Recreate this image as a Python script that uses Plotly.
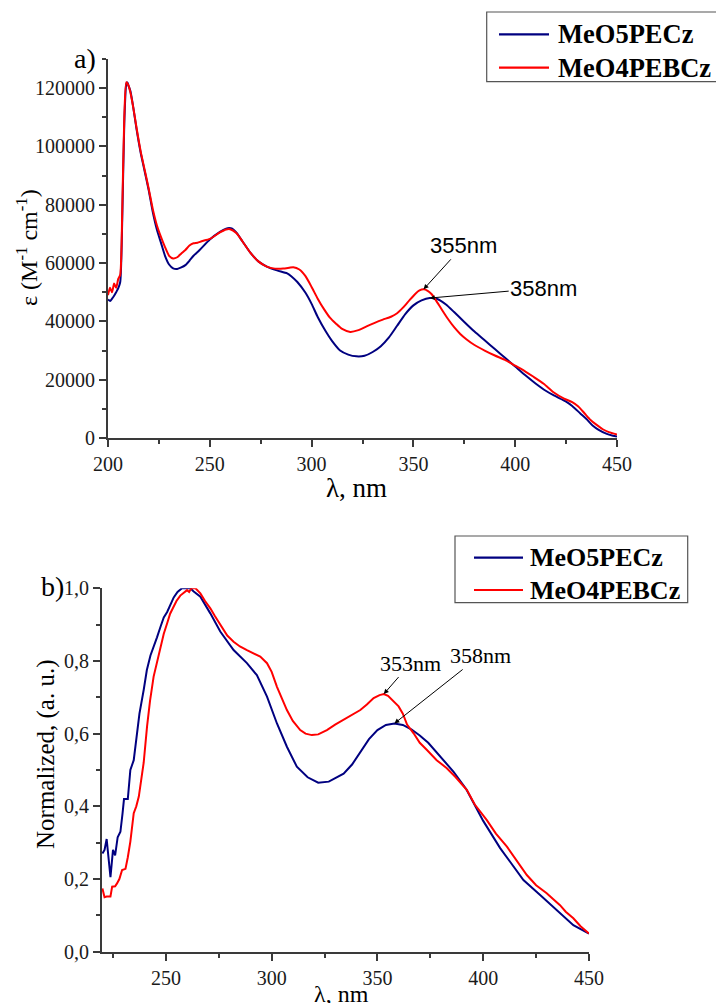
import plotly.graph_objects as go

# ---------------- panel a) molar absorptivity ----------------
wl_a_blue = [200, 201, 202, 203, 204, 205, 206, 207, 208, 209, 209.5, 210, 211, 212.5, 214, 216, 218,
             220, 222, 224, 226, 228, 230, 232, 234, 236, 238, 240, 242, 245, 250, 255, 258, 259.5,
             261, 263, 266, 270, 274, 278, 283, 288, 290, 293, 297, 300, 303, 307, 310, 314, 318,
             322, 326, 330, 334, 338, 342, 346, 350, 354, 358, 362, 366, 370, 375, 380, 385, 390,
             395, 400, 405, 410, 415, 419, 425, 428, 432, 435, 438, 441, 445, 448, 450]
eps_blue = [47500, 47000, 47800, 48800, 50000, 51300, 53500, 75000, 108000, 121500, 122000, 121000,
            119000, 113000, 106000, 98000, 91500, 85000, 77500, 71500, 67000, 62500, 59500, 58200,
            58000, 58500, 59300, 60800, 62500, 64500, 68100, 70700, 71800, 72000, 71800, 70500,
            67500, 63500, 60500, 58800, 57500, 56500, 55500, 53500, 49800, 46000, 41500, 36500,
            33300, 30000, 28600, 28000, 28200, 29500, 31500, 34500, 38500, 42500, 45500, 47200,
            48000, 47600, 45800, 43200, 39800, 36500, 33500, 30500, 27500, 24500, 21500, 18700,
            16200, 14600, 12500, 11000, 8400, 6500, 4300, 2800, 1400, 800, 500]

wl_a_red = [200, 201, 202, 203, 204, 205, 206, 207, 208, 209, 210, 211, 212.5, 214, 216, 218, 220,
            222, 224, 226, 228, 230, 232, 234, 236, 238, 240, 242, 244, 246, 250, 255, 258, 260,
            263, 266, 270, 274, 278, 282, 286, 289, 291, 294, 297, 300, 303, 306, 309, 312, 315,
            319, 323, 327, 331, 335, 339, 342, 345, 348, 351, 353, 355, 357, 359, 361, 364, 367,
            370, 373, 376, 380, 385, 390, 395, 400, 405, 409, 414, 419, 424, 428, 431, 434, 437,
            440, 443, 446, 450]
eps_red = [49000, 51500, 50000, 53000, 51500, 54500, 56000, 78000, 110000, 122000, 121000, 118500,
           113000, 106500, 98500, 92000, 85500, 78500, 73000, 69000, 65500, 62500, 61600, 62000,
           63300, 64500, 66000, 66800, 67000, 67500, 68300, 70500, 71500, 71600, 70300, 67500,
           63500, 60500, 58800, 58100, 58100, 58400, 58600, 57800, 55500, 51800, 47800, 44300,
           41300, 39200, 37400, 36400, 37000, 38300, 39500, 40600, 41600, 42800, 44800, 47200,
           49500, 50600, 51000, 50500, 49300, 47300, 44000, 40800, 38000, 35700, 33900, 31900,
           30000, 28300, 26800, 24800, 22800, 21000, 18600, 15600, 13500, 12300, 10800, 8500,
           6200, 4500, 3000, 2000, 1200]

# ---------------- panel b) normalized absorption ----------------
wl_b_blue = [220, 221, 222, 222.7, 223.8, 225, 226, 227.2, 228.5, 229.5, 230.2, 232, 233.2, 234.8,
             236.4, 237.5, 239.5, 241, 242.7, 244, 245.8, 247.5, 249, 250.6, 252, 253.7, 255.5,
             257.6, 261.6, 263, 266.3, 271, 275.7, 282, 288.3, 293, 297.8, 302.5, 307.2, 311.9,
             317, 322, 327, 334, 338, 342, 346, 350, 354, 358, 362, 366, 370, 374, 380, 386, 392,
             396, 400, 408, 419, 426.9, 434.7, 442.6, 450]
norm_blue = [0.27, 0.28, 0.31, 0.27, 0.205, 0.28, 0.265, 0.315, 0.33, 0.38, 0.42, 0.42, 0.50, 0.527,
             0.60, 0.655, 0.72, 0.775, 0.815, 0.835, 0.865, 0.895, 0.92, 0.935, 0.955, 0.975, 0.99,
             1.0, 1.0, 0.992, 0.977, 0.931, 0.881, 0.830, 0.794, 0.761, 0.702, 0.628, 0.564, 0.509,
             0.48, 0.465, 0.468, 0.49, 0.515, 0.55, 0.585, 0.61, 0.624, 0.628, 0.624, 0.612, 0.595,
             0.575, 0.535, 0.495, 0.447, 0.405, 0.36, 0.285, 0.197, 0.156, 0.115, 0.073, 0.05]

wl_b_red = [220, 221, 222, 223.8, 224.6, 226, 226.9, 228, 229.3, 230.9, 232, 233.2, 234.8, 236,
            237.2, 239.5, 241.1, 242.5, 244.2, 246, 247.4, 249, 250.6, 252, 253.7, 255, 256.8, 258,
            259, 260, 261, 262, 264, 266.3, 268.5, 271, 273, 275.7, 279, 282, 285, 288.3, 291,
            294.6, 297.8, 300, 302.5, 305, 307.2, 310, 313.5, 316, 319, 322, 326.1, 330, 334, 338,
            341.9, 345, 348.2, 351, 353, 355, 357, 360, 362, 364, 367.1, 370, 373.4, 378, 382.8,
            387, 392.3, 396, 401.7, 406, 411.2, 416, 420.6, 425, 430, 433, 436.3, 439, 442.6, 446,
            450]
norm_red = [0.174, 0.15, 0.152, 0.152, 0.179, 0.18, 0.188, 0.20, 0.225, 0.228, 0.26, 0.303, 0.381,
            0.40, 0.427, 0.52, 0.62, 0.69, 0.757, 0.80, 0.839, 0.875, 0.904, 0.93, 0.95, 0.965,
            0.98, 0.985, 0.99, 0.995, 0.99, 1.0, 1.0, 0.986, 0.965, 0.945, 0.925, 0.899, 0.87,
            0.853, 0.84, 0.830, 0.822, 0.812, 0.794, 0.77, 0.729, 0.695, 0.665, 0.635, 0.610, 0.600,
            0.596, 0.598, 0.61, 0.625, 0.638, 0.652, 0.665, 0.68, 0.698, 0.706, 0.709, 0.704, 0.692,
            0.675, 0.655, 0.625, 0.601, 0.575, 0.555, 0.527, 0.505, 0.48, 0.445, 0.405, 0.362, 0.325,
            0.289, 0.25, 0.211, 0.183, 0.161, 0.145, 0.128, 0.11, 0.092, 0.07, 0.05]

series_names = ["MeO5PECz", "MeO4PEBCz"]
series_colors = ["#000080", "#ff0000"]

a_xticks = [200, 250, 300, 350, 400, 450]
a_yticks = [0, 20000, 40000, 60000, 80000, 100000, 120000]
a_ytick_labels = ["0", "20000", "40000", "60000", "80000", "100000", "120000"]
b_xticks = [250, 300, 350, 400, 450]
b_yticks = [0.0, 0.2, 0.4, 0.6, 0.8, 1.0]
b_ytick_labels = ["0,0", "0,2", "0,4", "0,6", "0,8", "1,0"]

W, H = 716, 1003
SERIF = "Liberation Serif"
SANS = "Liberation Sans"
AXIS_COLOR = "#3a3a3a"
TEXT_COLOR = "#1a1a1a"


def px_x(p):
    return p / W


def px_y(p):
    return 1 - p / H


fig = go.Figure()

fig.add_trace(go.Scatter(x=wl_a_blue, y=eps_blue, name=series_names[0], mode="lines",
                         line=dict(color=series_colors[0], width=2, shape="spline", smoothing=0.6),
                         xaxis="x", yaxis="y"))
fig.add_trace(go.Scatter(x=wl_a_red, y=eps_red, name=series_names[1], mode="lines",
                         line=dict(color=series_colors[1], width=2, shape="spline", smoothing=0.6),
                         xaxis="x", yaxis="y"))
fig.add_trace(go.Scatter(x=wl_b_blue, y=norm_blue, name=series_names[0], mode="lines",
                         line=dict(color=series_colors[0], width=2),
                         xaxis="x2", yaxis="y2"))
fig.add_trace(go.Scatter(x=wl_b_red, y=norm_red, name=series_names[1], mode="lines",
                         line=dict(color=series_colors[1], width=2),
                         xaxis="x2", yaxis="y2"))

axis_common = dict(
    showline=True, linecolor=AXIS_COLOR, linewidth=1.8, mirror=False,
    showgrid=False, zeroline=False,
    ticks="outside", ticklen=7, tickwidth=1.5, tickcolor=AXIS_COLOR,
    tickfont=dict(family=SERIF, size=20, color=TEXT_COLOR),
)

fig.update_layout(
    width=W, height=H,
    margin=dict(l=0, r=0, t=0, b=0, autoexpand=False),
    paper_bgcolor="white", plot_bgcolor="white",
    showlegend=False,
    xaxis=dict(axis_common, domain=[px_x(108), px_x(617)], range=[200, 450],
               tickvals=a_xticks, anchor="y",
               minor=dict(dtick=25, tick0=200, ticks="outside", ticklen=4, tickcolor=AXIS_COLOR)),
    yaxis=dict(axis_common, domain=[px_y(438), px_y(59)], range=[0, 130000],
               tickvals=a_yticks, ticktext=a_ytick_labels, anchor="x",
               minor=dict(dtick=10000, tick0=0, ticks="outside", ticklen=4, tickcolor=AXIS_COLOR)),
    xaxis2=dict(axis_common, domain=[px_x(102), px_x(589)], range=[219.8, 450],
                tickvals=b_xticks, anchor="y2",
                minor=dict(dtick=25, tick0=200, ticks="outside", ticklen=4, tickcolor=AXIS_COLOR)),
    yaxis2=dict(axis_common, domain=[px_y(951.7), px_y(588.3)], range=[0, 1.0],
                tickvals=b_yticks, ticktext=b_ytick_labels, anchor="x2",
                minor=dict(dtick=0.1, tick0=0, ticks="outside", ticklen=4, tickcolor=AXIS_COLOR)),
)

# legend boxes (one per panel): frame, line samples and bold series names
legend_boxes = [
    dict(box=(486.7, 12, 740, 81.7), line_x=(499, 549), rows=(34.3, 67.7), text_x=556, size=26.5),
    dict(box=(455, 536, 687.7, 602.7), line_x=(474, 523), rows=(557.7, 590), text_x=528, size=26),
]
for lg in legend_boxes:
    x0, y0, x1, y1 = lg["box"]
    fig.add_shape(type="rect", xref="paper", yref="paper",
                  x0=px_x(x0), x1=px_x(x1), y0=px_y(y1), y1=px_y(y0),
                  line=dict(color="#555555", width=1.2), fillcolor="white", layer="above")
    for name, color, row in zip(series_names, series_colors, lg["rows"]):
        fig.add_shape(type="line", xref="paper", yref="paper",
                      x0=px_x(lg["line_x"][0]), x1=px_x(lg["line_x"][1]),
                      y0=px_y(row), y1=px_y(row),
                      line=dict(color=color, width=2.2), layer="above")
        fig.add_annotation(text=name, x=px_x(lg["text_x"]), y=px_y(row), xref="paper", yref="paper",
                           xanchor="left", yanchor="middle", showarrow=False,
                           font=dict(family=SERIF, size=lg["size"], color="black", weight="bold"))

# axis titles and panel labels
labels = [
    dict(text="λ, nm", x=px_x(356), y=px_y(488), size=27, angle=0),
    dict(text="ε (M<sup>-1</sup> cm<sup>-1</sup>)", x=px_x(27), y=px_y(248), size=24, angle=-90),
    dict(text="a)", x=px_x(85), y=px_y(58), size=28, angle=0),
    dict(text="λ, nm", x=px_x(341), y=px_y(994), size=24, angle=0),
    dict(text="Normalized, (a. u.)", x=px_x(46), y=px_y(754), size=25, angle=-90),
    dict(text="b)", x=px_x(52), y=px_y(586), size=28, angle=0),
]
for lb in labels:
    fig.add_annotation(text=lb["text"], x=lb["x"], y=lb["y"], xref="paper", yref="paper",
                       xanchor="center", yanchor="middle", showarrow=False,
                       textangle=lb["angle"],
                       font=dict(family=SERIF, size=lb["size"], color="black"))

# peak markers
peak_notes = [
    dict(text="355nm", x=355, y=51000, ax=40, ay=-44, xref="x", yref="y", fam=SANS),
    dict(text="358nm", x=358, y=48000, ax=114, ay=-10, xref="x", yref="y", fam=SANS),
    dict(text="353nm", x=353, y=0.709, ax=27, ay=-31, xref="x2", yref="y2", fam=SERIF),
    dict(text="358nm", x=358, y=0.628, ax=86, ay=-68, xref="x2", yref="y2", fam=SERIF),
]
for pn in peak_notes:
    fig.add_annotation(text=pn["text"], x=pn["x"], y=pn["y"], xref=pn["xref"], yref=pn["yref"],
                       ax=pn["ax"], ay=pn["ay"], axref="pixel", ayref="pixel",
                       showarrow=True, arrowhead=2, arrowsize=1, arrowwidth=1,
                       arrowcolor="black", standoff=0,
                       font=dict(family=pn["fam"], size=22, color="black"))

fig.write_html("out.html")
